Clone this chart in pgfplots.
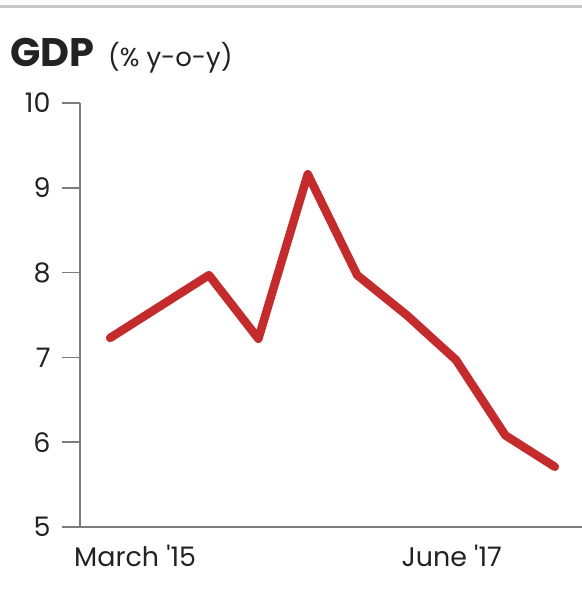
\documentclass[border=0pt]{standalone}
\usepackage{fontspec}
\setmainfont{Poppins}
\usepackage{pgfplots}
\pgfplotsset{compat=1.18}
\definecolor{gdpred}{HTML}{C42B2C}
\definecolor{axgray}{HTML}{7C7C7C}
\definecolor{txt}{HTML}{222222}
\begin{document}
\begin{tikzpicture}
\useasboundingbox (-80bp,-76bp) rectangle (502bp,527bp);
\draw[line width=3bp, color=black!22] (-80bp,520bp) -- (502bp,520bp);
\begin{axis}[
  at={(0,0)}, anchor=south west,
  scale only axis, width=502bp, height=424bp,
  xmin=-0.61, xmax=9.55, ymin=5, ymax=10,
  axis x line=bottom, axis y line=left,
  axis line style={axgray, line width=1.6bp, -},
  xtick=\empty,
  ytick={5,6,7,8,9,10},
  tick align=outside,
  major tick length=18bp,
  ytick style={axgray, line width=1.6bp},
  /pgf/number format/assume math mode=true,
  yticklabel style={font=\fontsize{27}{27}\selectfont, text=txt, xshift=-8bp},
  clip=false,
]
\addplot[gdpred, line width=8.5bp, line join=round, line cap=round] coordinates {
(0,7.23) (1,7.6) (2,7.97) (3,7.22) (4,9.16) (5,7.97) (6,7.5) (7,6.97) (8,6.08) (9,5.71)
};
\end{axis}
\node[anchor=base west, inner sep=0, font=\fontsize{40}{40}\selectfont\bfseries, text=txt] at (-70bp,460bp) {GDP};
\node[anchor=base west, inner sep=0, font=\fontsize{26}{26}\selectfont, text=txt] at (28bp,460bp) {(\% y-o-y)};
\node[anchor=base west, inner sep=0, font=\fontsize{27}{27}\selectfont, text=txt] at (-6bp,-39bp) {March \textquotesingle15};
\node[anchor=base east, inner sep=0, font=\fontsize{27}{27}\selectfont, text=txt] at (422bp,-39bp) {June \textquotesingle17};
\end{tikzpicture}
\end{document}
